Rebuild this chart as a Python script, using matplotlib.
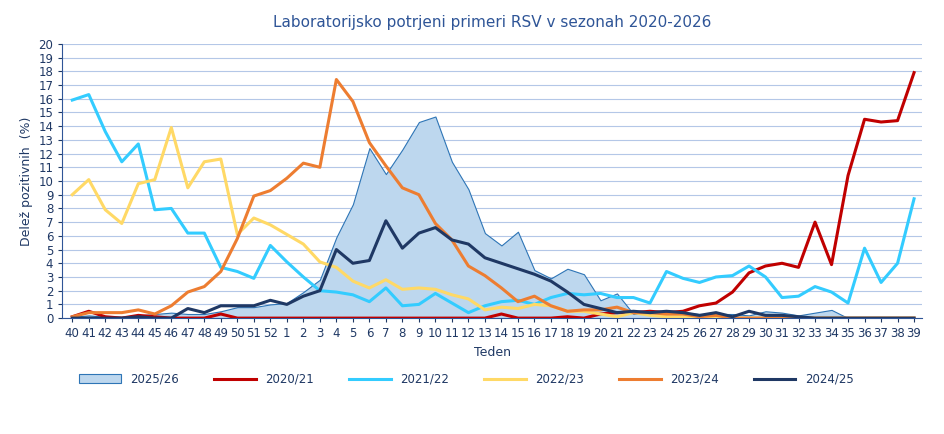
import matplotlib.pyplot as plt
import numpy as np

# tedni sezone: 40..52, 1..39
tedni = [str(t) for t in list(range(40, 53)) + list(range(1, 40))]

s2526 = [0.1, 0.2, 0.1, 0.1, 0.2, 0.3, 0.4, 0.3, 0.3, 0.5, 0.8, 0.8, 1.0, 1.1, 1.9, 2.8, 5.9, 8.3,
         12.4, 10.5, 12.3, 14.3, 14.7, 11.4, 9.4, 6.2, 5.3, 6.3, 3.5, 2.9, 3.6, 3.2, 1.3, 1.8, 0.3,
         0.4, 0.4, 0.4, 0.3, 0.3, 0.3, 0.2, 0.5, 0.4, 0.2, 0.4, 0.6, 0, 0, 0, 0, 0]
s2021 = [0.1, 0.5, 0.1, 0, 0.2, 0.1, 0, 0, 0, 0.3, 0, 0, 0, 0, 0, 0, 0, 0, 0, 0, 0, 0, 0, 0, 0, 0,
         0.3, 0, 0, 0, 0.1, 0, 0.3, 0.4, 0.4, 0.5, 0.4, 0.5, 0.9, 1.1, 1.9, 3.3, 3.8, 4.0, 3.7, 7.0,
         3.9, 10.4, 14.5, 14.3, 14.4, 17.9]
s2122 = [15.9, 16.3, 13.6, 11.4, 12.7, 7.9, 8.0, 6.2, 6.2, 3.7, 3.4, 2.9, 5.3, 4.1, 3.0, 2.0, 1.9,
         1.7, 1.2, 2.2, 0.9, 1.0, 1.8, 1.1, 0.4, 0.9, 1.2, 1.3, 1.0, 1.5, 1.8, 1.7, 1.8, 1.5, 1.5,
         1.1, 3.4, 2.9, 2.6, 3.0, 3.1, 3.8, 3.0, 1.5, 1.6, 2.3, 1.9, 1.1, 5.1, 2.6, 4.0, 8.7]
s2223 = [9.0, 10.1, 7.9, 6.9, 9.8, 10.1, 13.9, 9.5, 11.4, 11.6, 6.1, 7.3, 6.8, 6.1, 5.4, 4.1, 3.7,
         2.7, 2.2, 2.8, 2.1, 2.2, 2.1, 1.7, 1.4, 0.6, 0.8, 0.7, 1.0, 0.9, 0.5, 0.5, 0.3, 0.1, 0.4,
         0.2, 0.1, 0.1, 0.1, 0, 0, 0, 0, 0, 0, 0, 0, 0, 0, 0, 0, 0]
s2324 = [0.1, 0.4, 0.4, 0.4, 0.6, 0.3, 0.9, 1.9, 2.3, 3.4, 5.8, 8.9, 9.3, 10.2, 11.3, 11.0, 17.4,
         15.8, 12.8, 11.1, 9.5, 9.0, 6.9, 5.7, 3.8, 3.1, 2.2, 1.2, 1.6, 0.9, 0.5, 0.6, 0.6, 0.8, 0.4,
         0.4, 0.3, 0.3, 0.1, 0.2, 0, 0, 0, 0, 0, 0, 0, 0, 0, 0, 0, 0]
s2425 = [0, 0, 0, 0, 0.1, 0, 0, 0.7, 0.4, 0.9, 0.9, 0.9, 1.3, 1.0, 1.6, 2.0, 5.0, 4.0, 4.2, 7.1,
         5.1, 6.2, 6.6, 5.7, 5.4, 4.4, 4.0, 3.6, 3.2, 2.7, 1.9, 1.0, 0.7, 0.4, 0.5, 0.4, 0.5, 0.4,
         0.2, 0.4, 0.1, 0.5, 0.2, 0.2, 0.1, 0, 0, 0, 0, 0, 0, 0]

x = np.arange(len(tedni))
fig = plt.figure(figsize=(9.45, 4.34), dpi=100)
ax = fig.add_axes([0.066, 0.267, 0.91, 0.632])

ax.fill_between(x, s2526, color='#bdd7ee', edgecolor='#2e75b6', linewidth=0.8, label='2025/26', zorder=2)
ax.plot(x, s2021, color='#c00000', lw=2.2, label='2020/21', zorder=3)
ax.plot(x, s2122, color='#33ccff', lw=2.2, label='2021/22', zorder=3)
ax.plot(x, s2223, color='#ffd966', lw=2.2, label='2022/23', zorder=3)
ax.plot(x, s2324, color='#ed7d31', lw=2.2, label='2023/24', zorder=3)
ax.plot(x, s2425, color='#1f3864', lw=2.2, label='2024/25', zorder=3)

ax.set_xlim(-0.6, 51.5)
ax.set_ylim(0, 20)
ax.set_yticks(range(0, 21))
ax.set_xticks(x)
ax.set_xticklabels(tedni)
ax.grid(axis='y', color='#b4c7e7', lw=0.8, zorder=0)
ax.set_axisbelow(True)
for s in ['top', 'right']:
    ax.spines[s].set_visible(False)
ax.spines['left'].set_color('#2f5597')
ax.spines['bottom'].set_color('#2f5597')
ax.tick_params(colors='#1f3864', labelsize=8.5, length=3)
ax.tick_params(axis='x', direction='out')
ax.set_xlabel('Teden', color='#1f3864', fontsize=9)
ax.set_ylabel('Delež pozitivnih  (%)', color='#1f3864', fontsize=9)
ax.set_title('Laboratorijsko potrjeni primeri RSV v sezonah 2020-2026', color='#2f5597', fontsize=11, pad=12)
ax.legend(loc='upper center', bbox_to_anchor=(0.47, -0.16), ncol=6, frameon=False,
          fontsize=8.5, labelcolor='#1f3864', handlelength=3.5, columnspacing=3)

fig.savefig('out.png', dpi=100)
